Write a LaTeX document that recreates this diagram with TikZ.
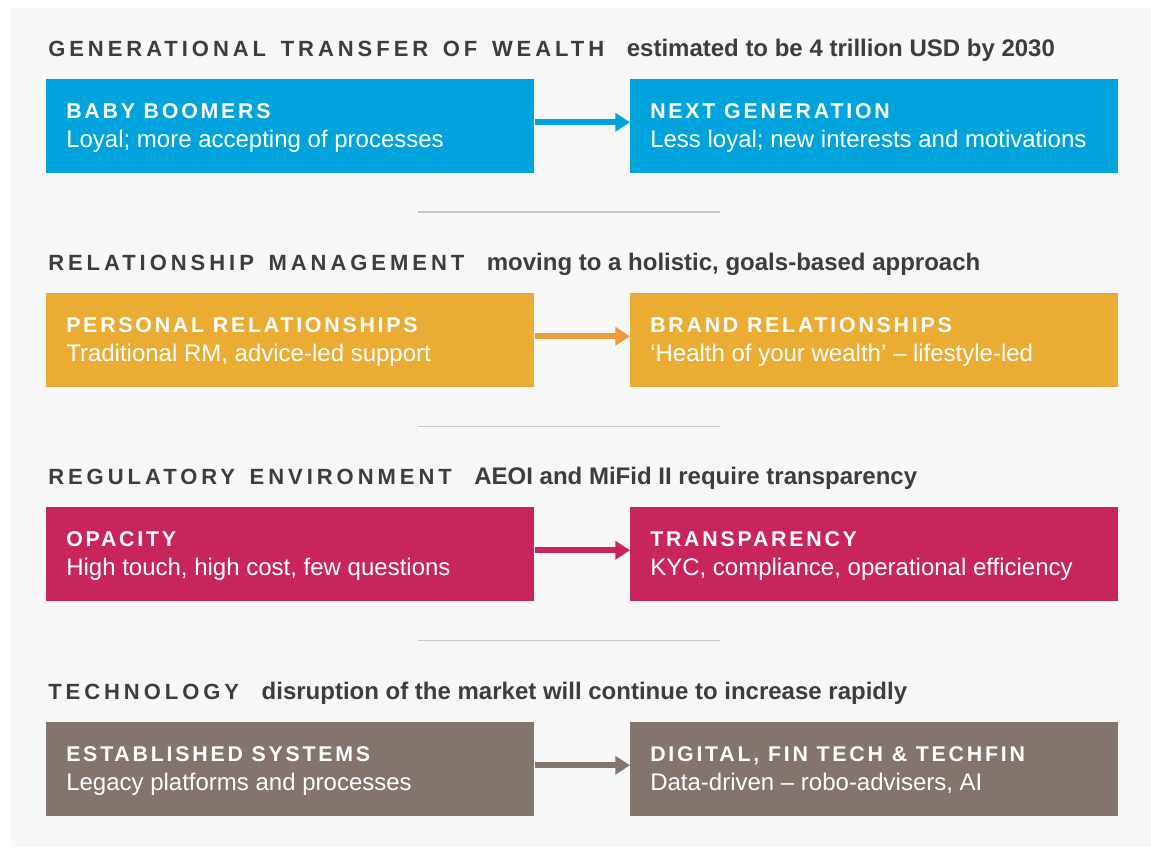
\documentclass[tikz,border=0pt]{standalone}
\usepackage{fontspec}
\setmainfont{Liberation Sans}
\newfontfamily\spacedfont[LetterSpace=18]{Liberation Sans}
\newfontfamily\capsfont[LetterSpace=13]{Liberation Sans}
\usetikzlibrary{arrows.meta,positioning}

% a little extra room between the words of the row headings
\newcommand\widewords{\spaceskip\dimexpr\fontdimen2\font+3.4pt\relax}

\definecolor{pageback}{HTML}{F7F7F7}
\definecolor{inkgray}{HTML}{3D3D3D}
\definecolor{rulegray}{HTML}{C8C8C8}
\definecolor{wealthblue}{HTML}{00A3DC}
\definecolor{rmorange}{HTML}{EBAC34}
\definecolor{rmarrow}{HTML}{EE9A3B}
\definecolor{regred}{HTML}{C8255C}
\definecolor{techbrown}{HTML}{84746E}

\tikzset{
  panel/.style={rectangle, anchor=north west, inner sep=0pt,
    minimum width=366pt, minimum height=70.5pt},
  heading/.style={anchor=base west, inner sep=0pt, text=inkgray,
    font={\spacedfont\bfseries\fontsize{16.5}{20}\selectfont\widewords}},
  subheading/.style={anchor=base west, inner sep=0pt, text=inkgray,
    font=\bfseries\fontsize{18}{22}\selectfont},
  boxhead/.style={anchor=base west, inner sep=0pt, text=white,
    font=\capsfont\bfseries\fontsize{16}{20}\selectfont},
  boxtext/.style={anchor=base west, inner sep=0pt, text=white,
    font=\fontsize{18}{22}\selectfont},
  flow/.style={line width=4.5pt, -{Triangle[length=11pt,width=13.5pt]}},
  divider/.style={draw=rulegray, line width=1.1pt}
}

\begin{document}
\begin{tikzpicture}[x=0.75pt,y=-0.75pt]
  \useasboundingbox (0,0) rectangle (1151,847);
  \fill[white] (0,0) rectangle (1151,847);
  \fill[pageback] (11,8) rectangle (1151,847);

  % one row per driver: heading, then the old and new state
  \foreach \i/\dy/\clr/\arr/\ttl/\sub/\oh/\ot/\nh/\nt in {
    1/0/wealthblue/wealthblue/{GENERATIONAL TRANSFER OF WEALTH}/{estimated to be 4 trillion USD by 2030}/{BABY BOOMERS}/{Loyal; more accepting of processes}/{NEXT GENERATION}/{Less loyal; new interests and motivations},
    2/214/rmorange/rmarrow/{RELATIONSHIP MANAGEMENT}/{moving to a holistic, goals-based approach}/{PERSONAL RELATIONSHIPS}/{Traditional RM, advice-led support}/{BRAND RELATIONSHIPS}/{‘Health of your wealth’ – lifestyle-led},
    3/428/regred/regred/{REGULATORY ENVIRONMENT}/{AEOI and MiFid II require transparency}/{OPACITY}/{High touch, high cost, few questions}/{TRANSPARENCY}/{KYC, compliance, operational efficiency},
    4/643/techbrown/techbrown/{TECHNOLOGY}/{disruption of the market will continue to increase rapidly}/{ESTABLISHED SYSTEMS}/{Legacy platforms and processes}/{DIGITAL, FIN TECH \& TECHFIN}/{Data-driven – robo-advisers, AI}} {
    \node[heading] (title\i) at (48,56.5+\dy) {\ttl};
    \node[subheading, right=16.5pt of title\i.base east, anchor=base west] (sub\i) {\sub};
    \node[panel, fill=\clr] (old\i) at (46,79+\dy) {};
    \node[panel, fill=\clr] (new\i) at (630,79+\dy) {};
    \node[boxhead] (oldhead\i) at ([shift={(20,39.7)}]old\i.north west) {\oh};
    \node[boxtext] (oldtext\i) at ([shift={(20,68)}]old\i.north west) {\ot};
    \node[boxhead] (newhead\i) at ([shift={(20,39.7)}]new\i.north west) {\nh};
    \node[boxtext] (newtext\i) at ([shift={(20,68)}]new\i.north west) {\nt};
    \draw[flow, draw=\arr] ([yshift=3pt]old\i.east) -- ([yshift=3pt]new\i.west);
  }

  % thin rules between the rows
  \foreach \i in {0,1,2}
    \draw[divider] (418,212+214.3*\i) -- (720,212+214.3*\i);
\end{tikzpicture}
\end{document}
